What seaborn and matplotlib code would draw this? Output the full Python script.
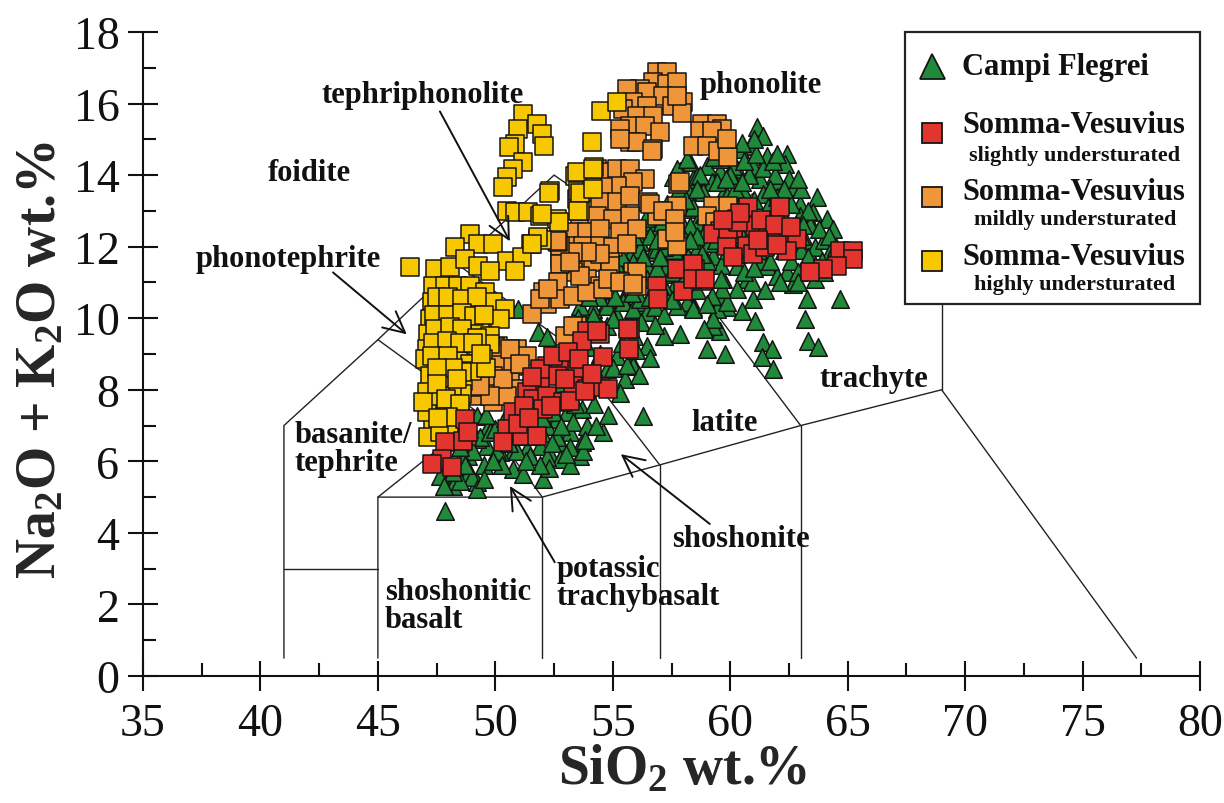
import matplotlib
matplotlib.use("Agg")
import matplotlib.pyplot as plt
import seaborn as sns
import pandas as pd
from matplotlib.patches import Rectangle
from matplotlib.lines import Line2D
from matplotlib.ticker import MultipleLocator

# ---------------------------------------------------------------------------
# Analyses: (SiO2 wt.%, Na2O + K2O wt.%)
# ---------------------------------------------------------------------------
campi_flegrei = [
    (61.13, 15.34), (61.38, 15.08), (60.83, 14.80), (62.40, 14.58), (62.32, 14.30),
    (61.55, 14.53), (60.40, 14.72), (59.98, 14.50), (60.96, 14.25), (60.28, 14.16),
    (59.55, 14.11), (59.00, 14.25), (58.28, 14.36), (57.85, 14.11), (57.55, 13.94),
    (58.40, 13.88), (59.21, 13.80), (60.11, 13.88), (61.26, 13.88), (61.98, 13.80),
    (62.66, 13.66), (63.68, 13.38), (62.11, 13.41), (61.38, 13.46), (60.53, 13.55),
    (59.68, 13.46), (58.83, 13.52), (58.15, 13.52), (57.72, 13.32), (62.96, 13.18),
    (63.51, 12.96), (64.11, 12.77), (64.36, 12.49), (63.38, 12.68), (62.96, 12.85),
    (58.28, 13.04), (57.85, 12.77), (58.57, 12.68), (57.43, 12.57), (57.00, 12.29),
    (56.57, 12.54), (56.15, 12.12), (56.70, 11.84), (55.72, 11.73), (56.45, 11.45),
    (55.43, 11.28), (55.94, 11.03), (58.57, 11.84), (59.26, 11.73), (61.55, 11.45),
    (62.40, 11.28), (63.26, 11.45), (60.28, 11.45), (59.68, 11.09), (60.70, 11.09),
    (61.98, 11.17), (59.55, 10.53), (60.96, 10.53), (63.26, 10.53), (64.66, 10.53),
    (58.28, 10.53), (62.66, 10.95), (58.83, 11.42), (57.13, 11.23), (57.98, 11.09),
    (57.55, 10.75), (59.85, 10.31), (61.04, 9.92), (63.17, 9.97), (59.55, 9.64),
    (57.85, 9.55), (61.38, 9.33), (61.77, 9.13), (61.34, 8.91), (61.81, 8.58),
    (63.30, 9.36), (63.72, 9.19), (59.00, 9.13), (59.77, 8.99), (58.40, 10.31),
    (56.28, 7.26), (55.85, 8.72), (56.45, 9.22), (56.15, 10.31), (60.28, 10.81),
    (60.91, 11.00), (57.72, 14.16), (58.15, 13.60), (56.70, 12.68), (56.57, 12.29),
    (56.15, 11.93), (56.87, 11.93), (55.85, 11.56), (55.60, 11.45), (55.30, 11.28),
    (56.45, 11.09), (57.30, 11.45), (57.55, 10.81), (54.74, 10.45), (55.43, 10.53),
    (56.02, 10.45), (54.15, 10.25), (55.17, 10.06), (55.85, 10.06), (56.45, 10.17),
    (53.72, 9.97), (54.74, 9.78), (55.60, 9.78), (58.15, 10.45), (58.40, 10.25),
    (59.43, 10.25), (59.85, 10.45), (59.26, 9.78), (57.72, 10.34), (57.30, 10.73),
    (59.64, 10.81), (59.21, 10.61), (58.57, 11.93), (58.83, 12.29), (58.28, 12.57),
    (58.57, 13.97), (59.43, 13.80), (59.85, 13.41), (59.55, 14.44), (60.11, 14.25),
    (58.15, 14.44), (54.45, 9.78), (59.26, 9.97),
    (50.96, 10.25), (51.81, 9.61), (52.19, 9.47), (53.60, 10.34), (54.15, 10.06),
    (54.74, 10.34), (55.00, 9.97), (55.43, 10.45), (55.85, 10.25), (56.15, 10.53),
    (55.85, 8.66), (54.74, 8.58), (53.68, 7.46), (53.04, 7.37), (52.62, 7.18),
    (52.19, 6.98), (53.17, 6.82), (53.68, 6.54), (52.74, 6.54), (51.89, 6.42),
    (51.34, 6.34), (50.74, 6.28), (50.19, 6.26), (49.64, 6.42), (49.21, 6.62),
    (48.83, 6.15), (48.36, 5.87), (47.94, 5.64), (48.79, 5.59), (49.21, 5.42),
    (48.19, 5.31), (50.74, 5.78), (51.17, 5.64), (52.02, 5.50), (54.57, 6.82),
    (53.60, 6.15), (52.32, 6.20), (49.21, 7.26), (49.68, 6.96), (51.60, 7.09),
    (52.45, 7.37), (53.04, 7.93), (54.15, 8.58), (55.17, 8.94), (54.45, 9.00),
    (55.51, 8.30), (47.85, 4.61), (52.62, 6.68), (53.17, 6.40), (53.72, 6.28),
    (52.74, 6.06), (52.19, 6.12), (51.47, 6.15), (50.91, 6.28), (49.34, 6.68),
    (49.04, 6.28), (48.62, 6.06), (49.00, 5.56), (49.21, 5.22), (48.49, 5.45),
    (47.64, 5.59), (49.77, 6.82), (50.06, 6.28),
    (48.00, 6.00), (48.50, 6.40), (49.50, 5.90), (50.30, 5.90), (50.50, 6.60),
    (51.00, 6.70), (51.50, 6.70), (52.00, 6.80), (52.40, 6.50), (53.30, 7.10),
    (53.90, 7.00), (54.20, 7.60), (54.00, 8.20), (54.60, 8.10), (55.00, 8.60),
    (55.40, 9.30), (55.90, 9.50), (56.20, 9.90), (56.80, 10.30), (57.00, 10.90),
    (53.50, 8.30), (53.30, 8.80), (52.90, 8.20), (53.90, 9.20), (54.40, 10.60),
    (56.70, 10.80), (52.30, 5.80), (53.20, 5.90), (50.00, 6.90), (48.90, 6.90),
    (58.00, 12.00), (58.60, 12.30), (59.20, 12.80), (59.80, 12.90), (60.40, 13.20),
    (61.00, 13.30), (61.60, 13.10), (62.20, 12.90), (62.80, 12.60), (63.20, 12.20),
    (63.60, 12.00), (64.00, 12.20), (63.00, 11.90), (62.60, 11.60), (61.30, 11.60),
    (60.60, 11.30), (59.60, 11.50), (59.00, 11.60), (58.20, 11.70), (57.60, 11.90),
    (58.90, 12.90), (59.50, 13.10), (60.20, 13.60), (60.80, 14.00), (61.40, 14.20),
    (61.90, 14.00), (62.50, 13.90), (63.00, 13.60), (61.80, 12.70), (60.50, 12.30),
    (59.90, 11.90), (59.10, 12.10), (58.40, 13.10), (57.90, 12.40), (57.20, 12.00),
    (56.90, 11.40), (57.50, 11.30), (62.20, 12.20), (63.40, 12.60), (64.30, 11.90),
    (63.90, 11.60), (62.90, 11.30), (61.20, 11.90), (60.10, 12.60), (58.70, 11.20),
    (58.00, 11.50),
    (57.30, 13.20), (57.80, 13.60), (58.70, 14.00), (59.30, 14.50), (60.00, 14.00),
    (60.60, 14.40), (61.10, 14.60), (61.80, 14.40), (62.00, 13.40), (62.60, 13.20),
    (63.30, 13.00), (63.80, 12.50), (64.20, 12.30), (63.60, 11.50), (62.30, 11.90),
    (61.60, 12.20), (60.90, 12.40), (60.20, 12.10), (59.40, 12.20), (58.80, 11.80),
    (58.30, 12.20), (57.70, 12.60), (57.10, 12.70), (56.90, 12.20), (56.30, 11.70),
    (55.90, 12.30), (56.40, 12.80), (55.40, 11.70), (55.00, 11.30), (54.60, 10.90),
    (54.00, 10.60), (53.50, 10.00), (53.20, 9.60), (55.10, 10.60), (55.80, 10.70),
    (56.60, 10.60), (57.20, 10.10), (57.90, 10.80), (58.60, 10.80), (59.00, 10.40),
    (59.60, 11.10), (60.30, 11.80), (61.00, 11.40), (61.70, 11.60), (62.10, 11.00),
    (62.90, 11.00), (63.60, 11.10), (64.00, 11.30), (61.50, 10.80), (60.50, 10.20),
    (58.90, 9.70), (57.20, 9.50), (56.60, 8.90), (56.10, 8.40), (55.30, 7.90),
    (54.80, 7.30), (54.30, 7.00), (53.80, 6.60), (53.00, 6.20), (51.90, 5.90),
    (51.30, 6.00), (50.60, 6.50), (49.90, 6.00), (49.50, 5.50), (48.70, 5.90),
    (48.20, 5.70), (47.80, 5.30), (49.60, 7.30), (50.40, 7.20), (51.20, 7.30),
    (52.00, 7.20), (52.80, 7.00), (53.40, 7.60), (53.80, 8.00), (54.40, 8.30),
    (55.60, 8.70), (56.00, 9.10), (56.80, 9.80), (57.50, 10.50), (58.10, 11.20),
    (57.00, 11.70), (62.30, 13.60), (62.90, 13.90), (61.00, 15.00), (60.50, 14.90),
    (62.00, 14.60), (63.00, 12.30), (64.50, 12.00), (63.30, 11.70), (58.10, 13.30),
    (58.60, 13.60), (59.80, 13.90), (60.50, 13.80), (61.70, 13.60), (60.90, 13.00),
    (62.20, 12.50), (63.10, 12.60),
]

sv_slightly = [
    (53.89, 9.64), (54.45, 9.55), (53.68, 9.36), (54.57, 8.91), (55.72, 9.69),
    (55.68, 9.13), (52.19, 8.66), (52.74, 8.72), (53.47, 8.58), (52.62, 8.38),
    (53.30, 8.10), (53.89, 8.02), (51.89, 8.10), (51.34, 7.93), (51.60, 7.74),
    (52.19, 7.82), (52.87, 7.65), (53.17, 7.68), (54.45, 8.07), (54.79, 8.02),
    (50.74, 7.37), (52.02, 7.46), (50.49, 6.90), (51.13, 6.70), (51.77, 6.70),
    (50.32, 6.54), (47.85, 6.54), (48.79, 6.70), (47.72, 6.06), (48.15, 5.84),
    (51.89, 8.58), (47.30, 5.92), (48.62, 6.56), (48.70, 7.18), (48.83, 6.82),
    (53.81, 7.96), (54.32, 9.64), (52.45, 8.95), (53.10, 9.05), (53.55, 8.85),
    (54.10, 8.45), (52.95, 8.30), (51.55, 8.35), (51.20, 7.55), (52.35, 7.55),
    (50.95, 7.05), (51.45, 7.20),
    (60.74, 13.10), (62.11, 13.10), (60.28, 12.77), (59.55, 12.43), (60.11, 12.35),
    (59.26, 12.35), (61.04, 12.57), (61.60, 12.43), (61.98, 12.43), (62.45, 12.29),
    (62.83, 12.21), (59.85, 12.01), (60.70, 12.01), (62.40, 11.87), (60.11, 11.70),
    (60.96, 11.79), (61.47, 11.98), (64.66, 11.87), (65.21, 11.87), (65.21, 11.65),
    (64.53, 11.45), (63.94, 11.37), (63.38, 11.28), (57.72, 11.37), (58.49, 11.37),
    (58.83, 11.03), (56.87, 10.89), (57.98, 10.75), (56.91, 10.53), (58.40, 11.51),
    (58.40, 11.09), (58.91, 11.09), (59.89, 12.49), (60.32, 12.68), (55.64, 9.69),
    (60.40, 12.95), (61.30, 12.75), (61.90, 12.60), (59.70, 12.75), (61.20, 12.20),
    (62.00, 12.05), (62.60, 12.55),
]

sv_mildly = [
    (56.87, 16.87), (57.30, 16.87), (56.70, 16.59), (57.30, 16.54), (57.72, 16.59),
    (56.15, 16.40), (55.60, 16.40), (56.45, 16.31), (57.13, 16.20), (57.98, 16.03),
    (55.85, 16.03), (56.45, 15.92), (57.51, 15.92), (55.43, 15.84), (56.02, 15.64),
    (56.70, 15.64), (57.94, 15.75), (55.72, 15.36), (56.36, 15.36), (57.00, 15.20),
    (55.30, 15.28), (55.72, 14.92), (56.02, 14.92), (56.70, 14.72), (55.30, 15.00),
    (57.72, 16.20),
    (58.79, 15.42), (59.43, 15.42), (59.64, 15.28), (58.70, 15.22), (59.21, 15.22),
    (58.40, 14.80), (59.00, 14.80), (59.47, 14.66), (59.89, 14.50), (59.85, 15.00),
    (54.32, 14.16), (54.74, 14.08), (55.17, 14.16), (55.72, 14.16), (56.36, 13.88),
    (55.85, 13.80), (55.17, 13.69), (54.57, 13.66), (53.89, 13.52), (53.47, 13.32),
    (54.45, 13.24), (55.17, 13.24), (55.72, 13.41), (56.49, 13.24), (57.34, 12.99),
    (57.72, 13.13), (56.87, 12.85), (53.60, 12.77), (54.32, 12.85), (55.00, 12.77),
    (55.72, 12.85), (53.30, 12.40), (53.89, 12.40), (54.45, 12.49), (55.30, 12.40),
    (56.02, 12.49), (57.30, 12.21), (57.72, 12.01), (53.04, 12.01), (53.72, 12.01),
    (54.45, 12.01), (55.00, 11.98), (55.60, 12.07), (52.74, 11.65), (53.47, 11.59),
    (54.15, 11.56), (54.87, 11.56), (55.85, 11.28), (53.30, 11.28),
    (56.66, 14.66), (57.77, 13.74), (56.57, 13.18), (57.13, 12.99), (57.64, 12.77),
    (57.64, 12.40), (59.26, 13.13), (59.89, 13.13), (59.00, 12.85), (59.34, 12.68),
    (56.02, 11.28), (56.02, 10.89), (55.17, 11.03), (54.87, 11.45), (54.45, 11.79),
    (53.89, 11.84), (53.30, 11.84), (52.74, 12.01), (52.74, 11.51), (53.89, 11.09),
    (54.45, 10.89), (52.66, 11.00), (52.02, 10.73), (52.19, 10.39), (52.74, 10.53),
    (53.30, 10.61), (53.89, 10.73), (54.57, 10.81), (53.47, 9.78), (52.96, 9.50),
    (53.60, 11.17), (54.79, 11.09), (55.30, 11.00), (55.85, 10.95), (51.55, 10.11),
    (53.30, 9.78), (50.11, 9.22), (50.91, 9.13), (51.34, 8.94), (50.19, 8.77),
    (50.74, 8.66), (49.47, 8.10), (50.06, 8.10), (50.62, 8.21), (51.04, 8.02),
    (49.26, 7.82), (49.89, 7.65), (50.49, 7.82), (49.21, 8.07), (49.89, 8.38),
    (50.32, 8.30), (49.77, 7.82), (51.89, 10.53), (52.23, 10.81), (53.17, 11.56),
    (52.66, 12.12), (49.98, 9.19), (50.62, 9.13), (51.04, 8.72), (49.34, 8.10),
    (52.62, 12.15), (57.85, 13.80),
]

sv_highly = [
    (51.17, 15.70), (51.77, 15.42), (52.00, 15.14), (52.06, 14.80), (50.96, 15.28),
    (50.83, 14.86), (50.60, 14.78), (51.17, 14.36), (50.74, 14.16), (50.49, 13.94),
    (50.32, 13.66), (52.32, 13.55), (50.49, 12.99), (50.83, 12.96), (51.38, 12.96),
    (51.89, 12.85), (52.62, 12.77), (53.40, 13.97), (53.50, 13.55), (53.60, 12.99),
    (54.10, 14.92), (54.50, 15.78), (55.20, 16.03), (54.20, 14.22), (54.10, 13.66),
    (51.81, 12.21), (51.50, 12.07), (53.47, 14.08), (54.15, 14.16), (53.60, 13.50),
    (54.15, 13.60), (52.30, 13.50), (53.50, 13.00), (52.70, 12.70), (52.00, 12.90),
    (52.00, 12.20),
    (48.91, 12.35), (48.28, 11.98), (49.26, 12.07), (49.89, 12.07), (50.49, 11.59),
    (51.13, 11.70), (51.81, 12.26), (51.55, 12.07), (46.36, 11.42),
    (47.43, 11.37), (48.06, 11.42), (48.70, 11.65), (49.26, 11.45), (49.77, 11.31),
    (50.83, 11.31), (47.34, 10.89), (47.85, 10.89), (48.40, 10.89), (48.91, 10.89),
    (49.55, 10.73), (47.30, 10.45), (47.72, 10.31), (48.28, 10.31), (48.83, 10.34),
    (49.34, 10.34), (49.89, 10.45), (50.40, 10.25), (47.21, 9.97), (47.77, 9.89),
    (48.40, 9.97), (49.00, 9.78), (49.64, 9.92), (50.19, 9.97), (47.13, 9.55),
    (47.64, 9.50), (48.28, 9.55), (48.83, 9.50), (49.34, 9.61), (49.77, 9.50),
    (47.09, 9.13), (47.72, 9.22), (48.19, 9.13), (48.70, 9.08), (49.26, 9.22),
    (49.77, 9.27), (47.00, 8.85), (47.77, 8.80), (48.40, 8.80), (48.91, 8.72),
    (49.47, 8.85), (47.21, 8.38), (47.85, 8.38), (48.62, 8.24), (49.00, 8.52),
    (47.09, 7.93), (47.72, 8.02), (48.57, 7.88), (48.15, 8.10), (47.30, 7.51),
    (47.77, 7.54), (48.28, 7.37), (47.34, 7.04), (48.19, 6.98), (48.49, 7.23),
    (47.13, 6.68), (47.64, 6.82), (47.09, 7.37), (48.36, 6.96), (47.64, 7.82),
    (46.91, 7.65),
    (47.50, 10.60), (48.00, 10.60), (48.60, 10.55), (49.20, 10.60), (47.40, 10.10),
    (48.00, 10.10), (48.60, 10.15), (49.10, 10.05), (47.45, 9.70), (48.05, 9.75),
    (48.60, 9.70), (49.20, 9.45), (47.35, 9.30), (47.95, 9.35), (48.50, 9.30),
    (49.05, 9.30), (47.30, 8.95), (48.00, 8.95), (48.60, 8.50), (48.20, 8.60),
    (47.50, 8.60), (47.50, 8.15), (48.35, 8.30), (47.90, 7.75), (48.50, 7.60),
    (48.00, 7.25), (47.55, 7.20), (49.50, 10.10), (49.60, 8.60), (49.40, 9.00),
]

# TAS classification boundaries (Le Bas et al., 1986)
tas_boundaries = [
    [(41.0, 0.5), (41.0, 7.0), (45.0, 9.4), (48.4, 11.5), (52.5, 14.0), (57.6, 11.7),
     (63.0, 7.0)],
    [(41.0, 3.0), (45.0, 3.0)],
    [(45.0, 0.5), (45.0, 5.0), (52.0, 5.0), (57.0, 5.9), (63.0, 7.0), (69.0, 8.0),
     (77.3, 0.5)],
    [(52.0, 0.5), (52.0, 5.0)],
    [(57.0, 0.5), (57.0, 5.9)],
    [(63.0, 0.5), (63.0, 7.0)],
    [(69.0, 8.0), (69.0, 13.0)],
    [(45.0, 5.0), (49.4, 7.3), (52.0, 5.0)],
    [(45.0, 9.4), (49.4, 7.3), (53.0, 9.3), (57.0, 5.9)],
    [(48.4, 11.5), (53.0, 9.3), (57.6, 11.7)],
    [(57.6, 11.7), (61.0, 13.5)],
]

field_labels = [
    ("foidite", 42.1, 14.08, "center"),
    ("phonolite", 61.3, 16.54, "center"),
    ("latite", 59.77, 7.09, "center"),
    ("trachyte", 66.1, 8.32, "center"),
    ("shoshonite", 60.45, 3.83, "center"),
    ("basanite/\ntephrite", 41.47, 6.35, "left"),
    ("potassic\ntrachybasalt", 52.6, 2.62, "left"),
    ("shoshonitic\nbasalt", 45.3, 1.98, "left"),
    ("tephriphonolite", 46.91, 16.26, "center"),
    ("phonotephrite", 41.17, 11.68, "center"),
]

# (tail, head) of the pointer arrows
pointers = [
    ((47.64, 15.78), (50.62, 12.15)),
    ((43.09, 11.28), (46.23, 9.55)),
    ((52.53, 3.18), (50.62, 5.31)),
    ((59.13, 4.25), (55.34, 6.20)),
]

groups = [
    ("Campi Flegrei", campi_flegrei, "^", "#20893a"),
    ("Somma-Vesuvius mildly", sv_mildly, "s", "#f0963a"),
    ("Somma-Vesuvius highly", sv_highly, "s", "#f7c800"),
    ("Somma-Vesuvius slightly", sv_slightly, "s", "#e2352f"),
]

frames = []
for name, pts, _, _ in groups:
    frames.append(pd.DataFrame(pts, columns=["SiO2", "alkali"]).assign(group=name))
df = pd.concat(frames, ignore_index=True)

sns.set_style("ticks")
plt.rcParams["font.family"] = ["Liberation Serif", "DejaVu Serif"]
plt.rcParams["mathtext.fontset"] = "custom"
plt.rcParams["mathtext.rm"] = "Liberation Serif:bold"
plt.rcParams["mathtext.bf"] = "Liberation Serif:bold"
plt.rcParams["mathtext.default"] = "rm"

fig = plt.figure(figsize=(12.24, 8.04), dpi=100)
ax = fig.add_axes([143 / 1224, 1 - 677 / 804, 1057 / 1224, 644 / 804])

for line in tas_boundaries:
    xs, ys = zip(*line)
    ax.plot(xs, ys, color="#222222", lw=1.0, zorder=1, solid_joinstyle="miter")

for z, (name, _, marker, color) in enumerate(groups):
    sub = df[df["group"] == name]
    sns.scatterplot(data=sub, x="SiO2", y="alkali", marker=marker, color=color,
                    s=160, edgecolor="#151515", linewidth=1.1, ax=ax,
                    legend=False, zorder=3 + z)

for text, x, y, ha in field_labels:
    ax.text(x, y, text, ha=ha, va="center", fontsize=22, fontweight="bold",
            linespacing=0.95, color="#111111", zorder=10)

for tail, head in pointers:
    ax.annotate("", xy=head, xytext=tail,
                arrowprops=dict(arrowstyle="->", lw=1.4, color="#111111",
                                mutation_scale=38, shrinkA=0, shrinkB=0),
                zorder=10)

ax.set_xlim(35, 80)
ax.set_ylim(0, 18)
ax.xaxis.set_major_locator(MultipleLocator(5))
ax.xaxis.set_minor_locator(MultipleLocator(2.5))
ax.yaxis.set_major_locator(MultipleLocator(2))
ax.yaxis.set_minor_locator(MultipleLocator(1))
ax.tick_params(which="major", direction="inout", length=22, width=1.5,
               labelsize=33, pad=6, colors="#111111")
ax.tick_params(axis="x", which="major", pad=8)
ax.tick_params(which="minor", direction="in", length=9.5, width=1.5,
               colors="#111111")
for side in ("top", "right"):
    ax.spines[side].set_visible(False)
for side in ("left", "bottom"):
    ax.spines[side].set_linewidth(1.5)
    ax.spines[side].set_color("#111111")

ax.set_xlabel("SiO$_2$ wt.%", fontsize=40, fontweight="bold")
ax.set_ylabel("Na$_2$O + K$_2$O wt.%", fontsize=40, fontweight="bold")
ax.xaxis.set_label_coords(0.511, -0.104)
ax.yaxis.set_label_coords(-0.072, 0.492)

# Legend panel in the upper-right corner
tr = ax.transAxes
ax.add_patch(Rectangle((0.7207, 0.577), 1 - 0.7207, 1 - 0.577, transform=tr,
                       facecolor="white", edgecolor="#222222", lw=1.6,
                       zorder=20, clip_on=False))
legend_rows = [
    ("^", "#20893a", 18, 0.947, "Campi Flegrei", 0.947, None, None),
    ("s", "#e2352f", 15, 0.843, "Somma-Vesuvius", 0.857,
     "slightly understurated", 0.809),
    ("s", "#f0963a", 15, 0.744, "Somma-Vesuvius", 0.752,
     "mildly understurated", 0.710),
    ("s", "#f7c800", 15, 0.644, "Somma-Vesuvius", 0.652,
     "highly understurated", 0.609),
]
for marker, color, ms, my, title, ty, sub, sy in legend_rows:
    ax.add_line(Line2D([0.7465], [my], transform=tr, marker=marker, ms=ms,
                       mfc=color, mec="#151515", mew=1.3, ls="none",
                       zorder=21, clip_on=False))
    ax.text(0.7748, ty, title, transform=tr, ha="left", va="center",
            fontsize=22, fontweight="bold", color="#111111", zorder=21)
    if sub:
        ax.text(0.8817, sy, sub, transform=tr, ha="center", va="center",
                fontsize=16, fontweight="bold", color="#111111", zorder=21)

fig.savefig("out.png", dpi=100, facecolor="white")
